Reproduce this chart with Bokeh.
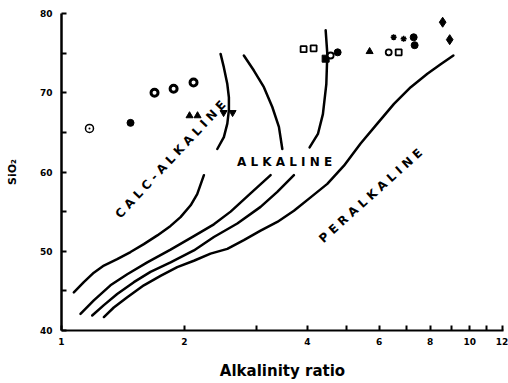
from bokeh.plotting import figure
from bokeh.models import Range1d, FixedTicker, Label, CustomJSTickFormatter
from bokeh.embed import file_html
from bokeh.resources import INLINE

# ---- boundary curves (alkalinity ratio, SiO2 wt%) ----
ca_low_x = [1.072, 1.134, 1.200, 1.270, 1.369, 1.476, 1.591, 1.717, 1.850, 1.957, 2.072, 2.150, 2.233]
ca_low_y = [44.8, 46.1, 47.3, 48.2, 49.0, 49.9, 50.9, 52.0, 53.2, 54.3, 55.8, 57.2, 59.6]
ca_up_x = [2.408, 2.499, 2.548, 2.571, 2.571, 2.548, 2.499, 2.453]
ca_up_y = [62.9, 64.4, 66.1, 67.8, 69.4, 71.1, 73.2, 74.9]

b_low_x = [1.113, 1.200, 1.318, 1.449, 1.622, 1.850, 2.110, 2.362, 2.596, 2.905, 3.253]
b_low_y = [42.1, 43.8, 45.7, 47.1, 48.6, 50.2, 51.9, 53.4, 55.0, 57.3, 59.6]
b_up_x = [3.475, 3.409, 3.284, 3.132, 2.960, 2.797]
b_up_y = [62.9, 65.7, 68.2, 70.7, 72.8, 74.7]

c_low_x = [1.189, 1.270, 1.369, 1.504, 1.652, 1.850, 2.110, 2.362, 2.696, 3.074, 3.378, 3.710]
c_low_y = [41.9, 43.2, 44.6, 46.1, 47.4, 48.6, 50.1, 51.8, 53.5, 55.6, 57.5, 59.6]
c_up_x = [4.053, 4.248, 4.369, 4.454, 4.479, 4.437]
c_up_y = [63.1, 64.8, 67.3, 71.1, 74.9, 77.9]

pa_x = [1.270, 1.343, 1.449, 1.591, 1.748, 1.921, 2.110, 2.318, 2.548, 2.797, 3.074,
        3.378, 3.710, 4.076, 4.479, 4.920, 5.404, 5.938, 6.524, 7.170, 7.876, 8.489, 9.120]
pa_y = [41.7, 42.9, 44.2, 45.7, 46.9, 48.0, 48.8, 49.7, 50.3, 51.4, 52.6,
        53.7, 55.1, 56.8, 58.5, 60.8, 63.6, 66.1, 68.6, 70.7, 72.4, 73.6, 74.7]

# ---- samples ----
dot_circ_x = [1.171]
dot_circ_y = [65.5]
fill_circ_x = [1.476, 4.748, 7.29, 7.33]
fill_circ_y = [66.2, 75.1, 77.0, 76.0]
ring_x = [1.690, 1.882, 2.106]
ring_y = [70.0, 70.5, 71.3]
tri_x = [2.059, 2.154, 5.686]
tri_y = [67.1, 67.1, 75.2]
itri_x = [2.495, 2.625]
itri_y = [67.5, 67.5]
osq_x = [3.918, 4.146, 6.699]
osq_y = [75.5, 75.6, 75.1]
fsq_x = [4.437]
fsq_y = [74.3]
ocirc_x = [4.564, 6.332]
ocirc_y = [74.7, 75.1]
ast_x = [6.512, 6.889]
ast_y = [77.0, 76.8]
dia_x = [8.585, 8.933]
dia_y = [78.9, 76.7]

x_ticks = [1, 2, 4, 6, 8, 10, 12]
x_minor = [3, 5, 7, 9, 11]
y_ticks = [40, 50, 60, 70, 80]
y_minor = [45, 55, 65, 75]

p = figure(width=508, height=383, x_axis_type="log",
           x_range=Range1d(1, 12.1), y_range=Range1d(40, 80),
           output_backend="svg", toolbar_location=None,
           min_border_left=61, min_border_right=5,
           min_border_top=13, min_border_bottom=53)
p.outline_line_color = None
p.grid.visible = False
p.background_fill_color = "white"
p.border_fill_color = "white"

FONT = "DejaVu Sans"

p.xaxis.ticker = FixedTicker(ticks=x_ticks, minor_ticks=x_minor)
p.xaxis.formatter = CustomJSTickFormatter(code="return tick.toFixed(0);")
p.yaxis.ticker = FixedTicker(ticks=y_ticks, minor_ticks=y_minor)

for ax in (p.xaxis[0], p.yaxis[0]):
    ax.major_tick_in = 5
    ax.major_tick_out = 0
    ax.minor_tick_in = 5
    ax.minor_tick_out = 0
    ax.major_tick_line_width = 2
    ax.minor_tick_line_width = 2
    ax.major_tick_line_color = "black"
    ax.minor_tick_line_color = "black"
    ax.axis_line_color = "black"
    ax.major_label_text_font = FONT
    ax.major_label_text_font_style = "bold"
    ax.major_label_text_font_size = "9px"
    ax.major_label_text_color = "black"
    ax.axis_label_text_font = FONT
    ax.axis_label_text_font_style = "bold"
    ax.axis_label_text_color = "black"

p.yaxis.axis_line_width = 2.5
p.xaxis.axis_line_width = 1.8
p.yaxis.major_label_standoff = 9
p.xaxis.major_label_standoff = 7
p.xaxis.axis_label = "Alkalinity ratio"
p.xaxis.axis_label_text_font_size = "15px"
p.xaxis.axis_label_standoff = 14
p.yaxis.axis_label = "SiO₂"
p.yaxis.axis_label_text_font_size = "11px"
p.yaxis.axis_label_standoff = 18

LW = 2.5
for xs, ys in [(ca_low_x, ca_low_y), (ca_up_x, ca_up_y), (b_low_x, b_low_y),
               (b_up_x, b_up_y), (c_low_x, c_low_y), (c_up_x, c_up_y),
               (pa_x, pa_y)]:
    p.line(xs, ys, line_width=LW, line_color="black", line_cap="round", line_join="round")

p.scatter(dot_circ_x, dot_circ_y, marker="circle_dot", size=8, fill_color="white",
          line_color="black", line_width=1.5)
p.scatter(fill_circ_x, fill_circ_y, marker="circle", size=7, fill_color="black", line_color="black")
p.scatter(ring_x, ring_y, marker="circle", size=7, fill_color="white", line_color="black", line_width=3)
p.scatter(tri_x, tri_y, marker="triangle", size=7, fill_color="black", line_color="black")
p.scatter(itri_x, itri_y, marker="inverted_triangle", size=7, fill_color="black", line_color="black")
p.scatter(osq_x, osq_y, marker="square", size=6, fill_color="white", line_color="black", line_width=1.8)
p.scatter(fsq_x, fsq_y, marker="square", size=7, fill_color="black", line_color="black")
p.scatter(ocirc_x, ocirc_y, marker="circle", size=6, fill_color="white", line_color="black", line_width=1.8)
p.scatter(ast_x, ast_y, marker="asterisk", size=6, line_color="black", line_width=1.5)
p.scatter(dia_x, dia_y, marker="diamond", size=10, fill_color="black", line_color="black")

def region_label(x, y, text, angle):
    p.add_layout(Label(x=x, y=y, text=text, angle=angle, text_align="center",
                       text_baseline="middle", text_font=FONT, text_font_style="bold",
                       text_font_size="12px", text_color="black"))

region_label(1.850, 61.6, "C A L C - A L K A L I N E", 0.82)
region_label(3.52, 61.2, "A L K A L I N E", 0.0)
region_label(5.72, 57.0, "P E R A L K A L I N E", 0.73)

open("out.html", "w").write(file_html(p, INLINE))
